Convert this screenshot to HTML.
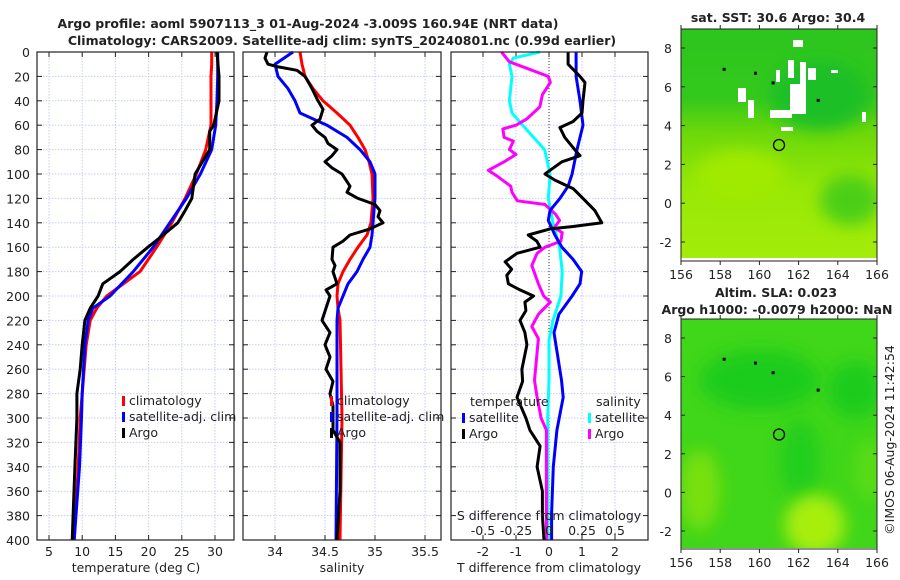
<!DOCTYPE html>
<html><head><meta charset="utf-8">
<style>
html,body{margin:0;padding:0;background:#fff;}
svg{display:block;font-family:"DejaVu Sans","Liberation Sans",sans-serif;}
</style></head>
<body>
<svg id="fig" width="900" height="580" viewBox="0 0 900 580" xmlns="http://www.w3.org/2000/svg">
<defs>
<linearGradient id="g1" x1="0" y1="0" x2="0" y2="1">
<stop offset="0" stop-color="#2cc61e"/><stop offset="0.3" stop-color="#34c81c"/><stop offset="0.45" stop-color="#6cd80a"/><stop offset="0.7" stop-color="#98e806"/><stop offset="1" stop-color="#a4ec0a"/></linearGradient>
<filter id="bl" x="-50%" y="-50%" width="200%" height="200%"><feGaussianBlur stdDeviation="8"/></filter>
<clipPath id="c1"><rect x="681" y="29" width="196" height="229"/></clipPath>
<clipPath id="c2"><rect x="681" y="319" width="196" height="229"/></clipPath>
</defs>
<g id="root"></g>
</svg>
<script>
// ---- data (depth in dbar) ----
const tDepth=[0,10,20,40,60,80,100,120,140,160,180,200,210,220,240,260,280,300,340,400];
const tClim=[29.5,29.5,29.4,29.4,29.4,28.6,27.2,25.5,23.5,21.2,18.7,13.7,12.2,11.2,10.6,10.3,10.0,9.7,9.4,8.8];
const tSat=[30.4,30.4,30.4,30.3,30.1,29.5,27.8,25.7,23.2,20.7,17.7,14.2,11.6,10.9,10.4,10.2,10.0,9.9,9.6,8.8];
const argoTDepth=[0,20,40,60,65,80,100,120,130,140,150,160,170,180,190,200,210,220,240,260,280,300,340,400];
const argoT=[30.3,30.6,30.6,29.8,29.2,29.2,27.0,26.5,25.5,24.4,22.2,19.9,17.7,15.7,13.1,12.4,11.2,10.4,10.0,9.7,9.2,9.2,8.9,8.5];
const sDepth=[0,10,20,30,40,50,60,70,80,90,100,120,140,150,160,170,180,190,200,210,220,300,400];
const sClim=[34.25,34.27,34.30,34.38,34.48,34.62,34.75,34.83,34.90,34.94,34.97,34.98,34.96,34.92,34.83,34.75,34.68,34.63,34.62,34.63,34.65,34.67,34.65];
const sSat=[34.18,34.00,34.03,34.13,34.20,34.25,34.52,34.72,34.85,34.95,35.00,35.00,34.98,34.97,34.95,34.88,34.82,34.73,34.68,34.63,34.62,34.62,34.61];
const argoSDepth=[0,5,10,12,15,20,30,40,47,55,60,65,70,75,80,85,90,95,100,110,115,120,125,130,135,140,145,150,155,160,170,175,180,190,195,200,220,230,240,250,260,270,280,290,300,310,320,340,360,400];
const argoS=[33.92,33.90,33.93,34.02,34.22,34.30,34.37,34.43,34.48,34.45,34.37,34.42,34.50,34.53,34.62,34.57,34.50,34.57,34.67,34.75,34.72,34.83,35.00,35.05,35.03,35.08,34.95,34.75,34.68,34.58,34.57,34.60,34.58,34.62,34.51,34.55,34.47,34.55,34.50,34.55,34.51,34.58,34.55,34.58,34.58,34.58,34.65,34.65,34.65,34.62];
const dDepth=[0,10,20,25,40,50,57,62,70,80,85,90,97,100,105,112,120,130,140,143,145,150,155,160,165,172,178,183,190,195,200,205,212,220,230,240,260,270,283,300,310,323,340,360,380,400];
const dTArgo=[0.58,0.58,0.94,1.09,1.03,1.0,0.73,0.33,0.48,0.78,0.94,0.39,0.03,-0.12,0.18,0.73,1.03,1.39,1.6,0.73,0.03,-0.63,-0.37,-0.27,-0.97,-1.33,-1.13,-1.28,-1.23,-0.88,-0.47,-0.73,-0.7,-0.88,-0.73,-0.67,-0.82,-0.8,-0.97,-0.7,-0.58,-0.27,-0.36,-0.2,-0.2,-0.15];
const dSatDepth=[0,20,40,60,70,80,100,110,120,130,138,150,160,170,180,190,200,215,230,269,283,310,340,378,400];
const dTSat=[0.82,0.82,0.94,1.03,0.94,0.85,0.7,0.58,0.33,0.03,-0.02,0.18,0.39,0.73,0.99,0.94,0.7,0.3,0.15,0.38,0.43,0.24,0.13,0.08,0.08];
const dSSatDepth=[0,5,10,20,40,50,60,80,100,120,140,160,180,200,220,236,269,300,400];
const dSSat=[-0.068,-0.27,-0.3,-0.28,-0.3,-0.28,-0.2,-0.033,0.008,-0.005,0.03,0.08,0.1,0.09,0.03,0.0,0.0,-0.01,-0.01];
const dSArgoDepth=[0,8,20,25,35,45,55,60,63,70,73,80,84,90,97,102,110,115,122,125,133,138,144,148,155,160,165,175,190,200,205,215,225,235,269,283,300,310,340,400];
const dSArgo=[-0.36,-0.3,-0.005,0.01,-0.05,-0.07,-0.17,-0.25,-0.35,-0.34,-0.27,-0.3,-0.25,-0.34,-0.46,-0.39,-0.29,-0.28,-0.24,-0.03,0.05,0.08,0.04,0.1,0.09,-0.03,-0.09,-0.13,-0.08,-0.04,0.01,-0.08,-0.13,-0.08,-0.11,-0.09,-0.06,-0.02,-0.02,-0.02];
const depthTicks=[0,20,40,60,80,100,120,140,160,180,200,220,240,260,280,300,320,340,360,380,400];
const tTicks=[5,10,15,20,25,30];
const sTicks=[34,34.5,35,35.5];
const sTickLabels=["34","34.5","35","35.5"];
const dTTicks=[-2,-1,0,1,2];
const dSTicks=[-0.5,-0.25,0,0.25,0.5];
const dSTickLabels=["-0.5","-0.25","0","0.25","0.5"];
const latTicks=[-2,0,2,4,6,8];
const lonTicks=[156,158,160,162,164,166];
const argoLon=161.0, argoLat=3.0;

const NS="http://www.w3.org/2000/svg";
const root=document.getElementById('root');
function el(tag,attrs,parent,txt){const e=document.createElementNS(NS,tag);for(const k in attrs)e.setAttribute(k,attrs[k]);if(txt!==undefined)e.textContent=txt;(parent||root).appendChild(e);return e;}

const TOP=52,BOT=540;
const FS=12.5;
const yD=d=>TOP+d*(BOT-TOP)/400;
const P1={x0:37,x1:234}, P2={x0:243,x1:441}, P3={x0:451,x1:648};
const xT=t=>49+(t-5)*6.64;
const xS=s=>375+(s-35)*100;
const xDT=v=>549+v*33;
const xDS=v=>549+v*132;

function panelFrame(P,name,xticks,xf,labels){
  const g=el('g',{});
  
  
  depthTicks.forEach(d=>{const l=el('line',{x1:P.x0,x2:P.x1,y1:yD(d),y2:yD(d),stroke:'#c6cdee','stroke-width':1,'stroke-dasharray':'1.5,1.5'},g);
    });
  xticks.forEach(v=>{const l=el('line',{x1:xf(v),x2:xf(v),y1:TOP,y2:BOT,stroke:'#c6cdee','stroke-width':1,'stroke-dasharray':'1.5,1.5'},g);
    });
  depthTicks.forEach(d=>{el('line',{x1:P.x0,x2:P.x0+5,y1:yD(d),y2:yD(d),stroke:'#222'},g);el('line',{x1:P.x1-5,x2:P.x1,y1:yD(d),y2:yD(d),stroke:'#222'},g);});
  xticks.forEach((v,i)=>{el('line',{x1:xf(v),x2:xf(v),y1:BOT,y2:BOT-5,stroke:'#222'},g);el('line',{x1:xf(v),x2:xf(v),y1:TOP,y2:TOP+5,stroke:'#222'},g);
    const t=el('text',{x:xf(v),y:556,'font-size':FS,'text-anchor':'middle',fill:'#222'},g,labels?labels[i]:String(v));
    });
  return g;
}
function line(xs,ds,xf,color,name,w){
  const pts=xs.map((v,i)=>xf(v).toFixed(1)+','+yD(ds[i]).toFixed(1)).join(' ');
  const p=el('polyline',{points:pts,fill:'none',stroke:color,'stroke-width':w||3,'stroke-linejoin':'round'});
  
  
  return p;
}
function box(P){const r=el('rect',{x:P.x0,y:TOP,width:P.x1-P.x0,height:BOT-TOP,fill:'none',stroke:'#222','stroke-width':1.2});
  }
function txt(x,y,s,size,anchor,name,weight){const t=el('text',{x:x,y:y,'font-size':size,'text-anchor':anchor||'start',fill:'#222','font-weight':weight||'normal'},root,s);
  return t;}
function legendItem(x,y,color,label,name){const r=el('rect',{x:x,y:y-9,width:3,height:10,fill:color});
  
  txt(x+7,y,label,FS,'start',name);}

// Titles
txt(308,28,'Argo profile: aoml 5907113_3 01-Aug-2024 -3.009S 160.94E (NRT data)',12.5,'middle','main-title','bold');
txt(342,45,'Climatology: CARS2009. Satellite-adj clim: synTS_20240801.nc (0.99d earlier)',12.5,'middle','subtitle','bold');

// Panel 1
panelFrame(P1,'temperature-panel',tTicks,xT);
depthTicks.forEach(d=>{txt(30,yD(d)+5,String(d),FS,'end','y-tick-label');});
line(tClim,tDepth,xT,'#f00','temperature-climatology-line');
line(tSat,tDepth,xT,'#00f','temperature-satellite-line');
line(argoT,argoTDepth,xT,'#000','temperature-argo-line');
box(P1);
txt(136,572,'temperature (deg C)',FS,'middle','x-axis-title-temperature');
legendItem(122,405,'#f00','climatology','legend-climatology');
legendItem(122,421,'#00f','satellite-adj. clim','legend-satellite-adj');
legendItem(122,437,'#000','Argo','legend-argo');

// Panel 2
panelFrame(P2,'salinity-panel',sTicks,xS,sTickLabels);
line(sClim,sDepth,xS,'#f00','salinity-climatology-line');
line(sSat,sDepth,xS,'#00f','salinity-satellite-line');
line(argoS,argoSDepth,xS,'#000','salinity-argo-line');
box(P2);
txt(342,572,'salinity',FS,'middle','x-axis-title-salinity');
legendItem(330,405,'#f00','climatology','legend-climatology-2');
legendItem(330,421,'#00f','satellite-adj. clim','legend-satellite-adj-2');
legendItem(330,437,'#000','Argo','legend-argo-2');

// Panel 3
panelFrame(P3,'difference-panel',dTTicks,xDT);
const zl=el('line',{x1:549,x2:549,y1:TOP,y2:BOT,stroke:'#333','stroke-width':1,'stroke-dasharray':'1,2'});

line(dSSat,dSSatDepth,xDS,'#0ff','salinity-diff-satellite-line');
line(dSArgo,dSArgoDepth,xDS,'#f0f','salinity-diff-argo-line');
line(dTSat,dSatDepth,xDT,'#00f','temperature-diff-satellite-line');
line(dTArgo,dDepth,xDT,'#000','temperature-diff-argo-line');
box(P3);
txt(549,520,'S difference from climatology',FS,'middle','s-axis-title');
dSTicks.forEach((v,i)=>{txt(xDS(v),535,dSTickLabels[i],FS,'middle','s-tick-label');});
txt(549,572,'T difference from climatology',FS,'middle','x-axis-title-tdiff');
txt(470,406,'temperature',FS,'start','legend-title-temperature');
txt(596,406,'salinity',FS,'start','legend-title-salinity');
legendItem(462,422,'#00f','satellite','legend-t-satellite');
legendItem(462,438,'#000','Argo','legend-t-argo');
legendItem(588,422,'#0ff','satellite','legend-s-satellite');
legendItem(588,438,'#f0f','Argo','legend-s-argo');

// Maps
function mapFrame(y0,y1,lat8,latm2,name){
  const lonX=lo=>681+(lo-156)*19.6;
  const latY=la=>lat8+(8-la)*(latm2-lat8)/10;
  latTicks.forEach(la=>{el('line',{x1:681,x2:685,y1:latY(la),y2:latY(la),stroke:'#222'});el('line',{x1:873,x2:877,y1:latY(la),y2:latY(la),stroke:'#222'});
    txt(672,latY(la)+5,String(la),FS,'end','lat-tick-label');});
  lonTicks.forEach(lo=>{el('line',{x1:lonX(lo),x2:lonX(lo),y1:y1,y2:y1+4,stroke:'#222'});el('line',{x1:lonX(lo),x2:lonX(lo),y1:y0-4,y2:y0,stroke:'#222'});
    txt(lonX(lo),y1+18,String(lo),FS,'middle','lon-tick-label');});
  const r=el('rect',{x:681,y:y0,width:196,height:y1-y0,fill:'none',stroke:'#222'});
  
  const c=el('circle',{cx:lonX(argoLon),cy:latY(argoLat),r:5.5,fill:'none',stroke:'#000','stroke-width':1.3});
  
  [[158.2,6.9],[163,5.3],[159.8,6.7],[160.7,6.2]].forEach(p=>{el('rect',{x:lonX(p[0])-1.5,y:latY(p[1])-1.5,width:3,height:3,fill:'#000'});});
}
// SST map
const m1=el('g',{'clip-path':'url(#c1)'});

el('rect',{x:681,y:29,width:196,height:230,fill:'url(#g1)'},m1);
el('ellipse',{cx:850,cy:200,rx:30,ry:25,fill:'#4ccf14',filter:'url(#bl)'},m1);
el('ellipse',{cx:820,cy:95,rx:50,ry:35,fill:'#1fbf28',filter:'url(#bl)'},m1);
el('ellipse',{cx:740,cy:175,rx:45,ry:25,fill:'#a0ea00',filter:'url(#bl)'},m1);
[[793,40,10,7],[788,60,6,18],[800,62,6,22],[808,68,8,12],[776,70,4,12],[790,84,16,30],[770,110,22,8],[748,100,6,18],[738,88,8,14],[781,127,12,4],[862,112,4,10],[831,70,7,3]].forEach(b=>{el('rect',{x:b[0],y:b[1],width:b[2],height:b[3],fill:'#fff'},m1);});
el('rect',{x:681,y:258,width:196,height:3,fill:'#fff'},m1);
mapFrame(29,261,48,242,'sst-map-frame');
txt(778,22,'sat. SST: 30.6 Argo: 30.4',12.5,'middle','sst-map-title','bold');
// SLA map
const m2=el('g',{'clip-path':'url(#c2)'});

el('rect',{x:681,y:319,width:196,height:229,fill:'#40d61a'},m2);
el('ellipse',{cx:760,cy:380,rx:60,ry:30,fill:'#1ccc1c',filter:'url(#bl)'},m2);
el('ellipse',{cx:855,cy:390,rx:28,ry:28,fill:'#1ccc1c',filter:'url(#bl)'},m2);
el('ellipse',{cx:800,cy:460,rx:20,ry:40,fill:'#22ce1c',filter:'url(#bl)'},m2);
el('ellipse',{cx:815,cy:525,rx:30,ry:30,fill:'#a8ee0c',filter:'url(#bl)'},m2);
el('ellipse',{cx:700,cy:490,rx:20,ry:40,fill:'#78e010',filter:'url(#bl)'},m2);
el('ellipse',{cx:870,cy:470,rx:15,ry:30,fill:'#5adc16',filter:'url(#bl)'},m2);
mapFrame(319,549,338,531,'sla-map-frame');
txt(776,297,'Altim. SLA: 0.023',12.5,'middle','sla-map-title','bold');
txt(777,314,'Argo h1000: -0.0079 h2000: NaN',12.5,'middle','sla-map-subtitle','bold');
const cp=txt(0,0,'©IMOS 06-Aug-2024 11:42:54',FS,'middle','copyright-stamp');
cp.setAttribute('transform','translate(894,440) rotate(-90)');
</script>
</body></html>
